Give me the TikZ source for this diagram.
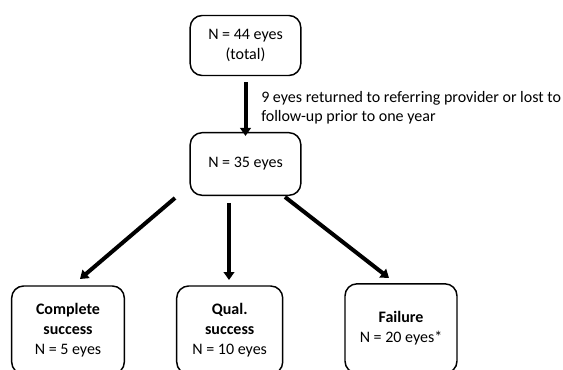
\documentclass[tikz,border=0pt]{standalone}
\usepackage{fontspec}
\setmainfont{Carlito}
\usetikzlibrary{arrows.meta}
\begin{document}
\begin{tikzpicture}[x=0.75pt,y=-0.75pt,
  box/.style={draw, line width=1.1pt, rounded corners=9pt, align=center,
    font=\fontsize{12pt}{15pt}\selectfont, inner sep=0pt},
  lbl/.style={align=left, font=\fontsize{12pt}{14.6pt}\selectfont, inner sep=0pt},
  bigarrow/.style={line width=3pt, -{Triangle[width=8pt,length=6pt]}}]
\useasboundingbox (0,0) rectangle (563,370);
\clip (0,0) rectangle (563,370);
\node[box, minimum width=83pt, minimum height=45pt] (n44) at (245.5,45.5) {N = 44 eyes\\(total)};
\node[box, minimum width=83pt, minimum height=47pt] (n35) at (245.5,164) {N = 35 eyes};
\node[box, minimum width=84.5pt, minimum height=66pt] (cs) at (68,330) {\textbf{Complete}\\\textbf{success}\\N = 5 eyes};
\node[box, minimum width=79.5pt, minimum height=66pt] (qs) at (229.7,330) {\textbf{Qual.}\\\textbf{success}\\N = 10 eyes};
\node[box, minimum width=84pt, minimum height=67pt] (fl) at (401,328.5) {\textbf{Failure}\\N = 20 eyes*};
\node[lbl, anchor=west] (note) at (261,107.5) {9 eyes returned to referring provider or lost to\\follow-up prior to one year};
\draw[bigarrow] (n44.south) ++(0,6) coordinate (s1) (s1) -- ([yshift=-3pt]n35.north);
\coordinate (s2) at (175,198);
\coordinate (e2) at (80,279);
\coordinate (s3) at (229,203);
\coordinate (e3) at (229,280);
\coordinate (s4) at (285,197);
\coordinate (e4) at (389,278);
\draw[bigarrow] (s2) -- (e2);
\draw[bigarrow] (s3) -- (e3);
\draw[bigarrow] (s4) -- (e4);
\end{tikzpicture}
\end{document}
